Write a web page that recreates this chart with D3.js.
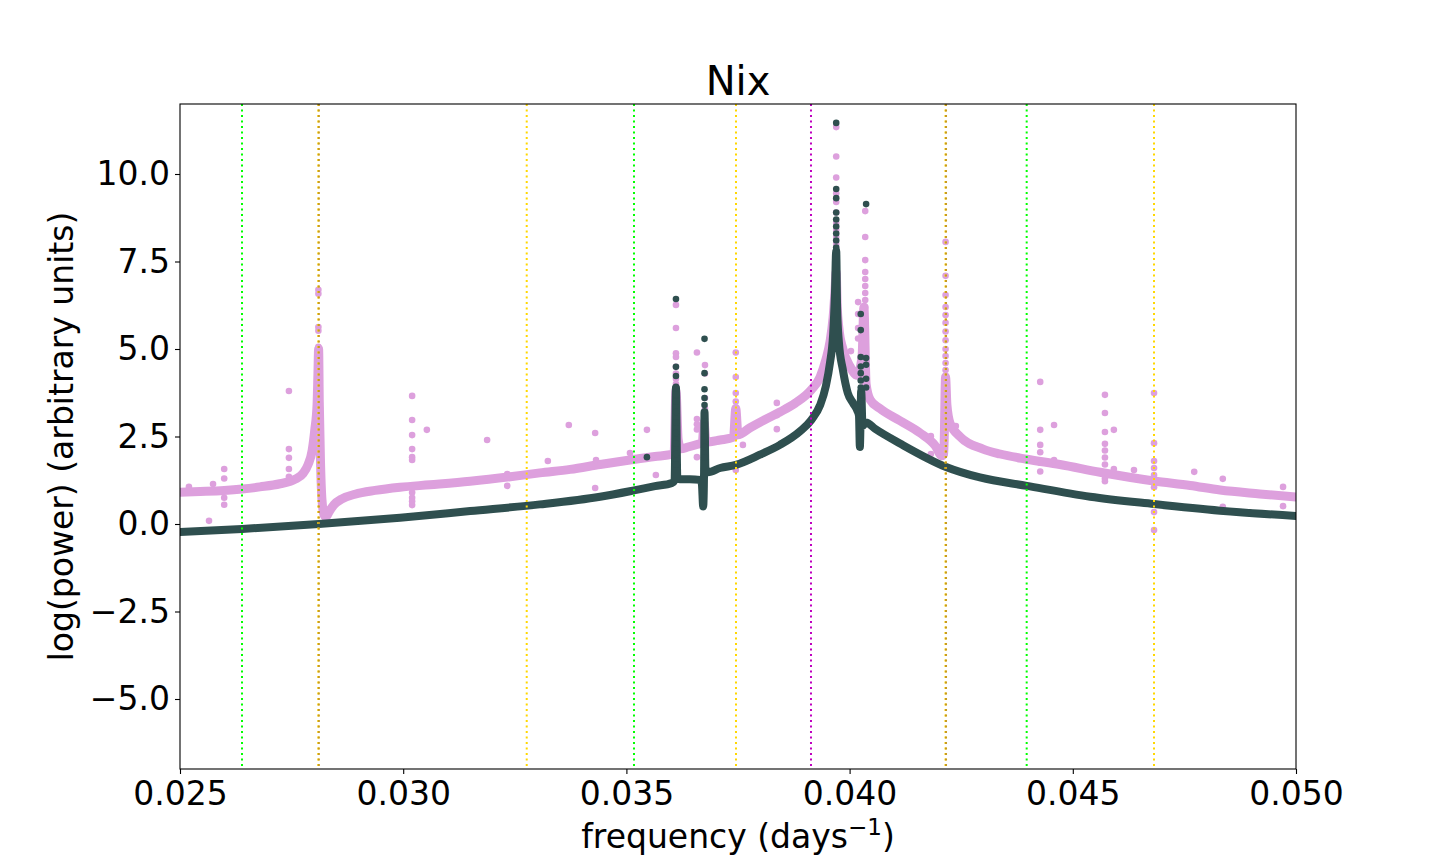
<!DOCTYPE html>
<html>
<head>
<meta charset="utf-8">
<script src="https://cdn.jsdelivr.net/npm/d3@7"></script>
<style>
  html, body { margin: 0; padding: 0; background: white; }
  svg { display: block; font-family: "DejaVu Sans", sans-serif; }
</style>
</head>
<body>
<div id="chart"></div>
<script>
// ---- data ----
// x ticks / y ticks
const xTicks = [0.025, 0.030, 0.035, 0.040, 0.045, 0.050];
const yTicks = [-5.0, -2.5, 0.0, 2.5, 5.0, 7.5, 10.0];

// reference frequencies (dotted vertical lines) and which family each one is
const refFreqs = [0.026389, 0.028098, 0.028110, 0.032767, 0.035170, 0.037455, 0.039135, 0.042148, 0.042160, 0.043967, 0.046819];
const refKinds = ['a', 'b', 'c', 'b', 'a', 'b', 'd', 'b', 'c', 'a', 'b'];

// dense band of the first series (pink), [frequency, log power]
const pinkBand = [
  [0.02500, 0.91], [0.02545, 0.93], [0.02599, 0.96], [0.02639, 1.00], [0.02679, 1.06],
  [0.02724, 1.15], [0.02758, 1.28], [0.02776, 1.45], [0.02787, 1.70], [0.02796, 2.10],
  [0.02802, 2.70], [0.02807, 3.40], [0.02809, 4.30], [0.028105, 5.00], [0.02812, 3.50],
  [0.028147, 1.80], [0.02818, 0.70], [0.02823, 0.25], [0.02827, 0.20], [0.02834, 0.35],
  [0.02845, 0.55], [0.02863, 0.72], [0.02892, 0.85], [0.02937, 0.96], [0.02993, 1.05],
  [0.03060, 1.12], [0.03150, 1.22], [0.03240, 1.35], [0.03306, 1.46], [0.03374, 1.56],
  [0.03441, 1.70], [0.03508, 1.83], [0.03564, 1.93], [0.03598, 1.98], [0.03607, 2.05],
  [0.03611, 3.80], [0.03616, 2.40], [0.03622, 2.15], [0.03638, 2.20], [0.03660, 2.28],
  [0.03670, 2.32], [0.03674, 2.90], [0.03678, 2.34], [0.03710, 2.40], [0.03740, 2.48],
  [0.03745, 3.30], [0.03750, 2.55], [0.03777, 2.75], [0.03810, 2.98], [0.03844, 3.20],
  [0.03878, 3.45], [0.03914, 3.83], [0.03934, 4.20], [0.03947, 4.70], [0.03956, 5.20],
  [0.03963, 5.90], [0.03967, 6.60], [0.03970, 7.20], [0.03972, 6.30], [0.03976, 5.60],
  [0.03985, 5.00], [0.04001, 4.50], [0.04017, 4.25], [0.04028, 4.80], [0.04032, 6.20],
  [0.04037, 4.00], [0.04046, 3.55], [0.04068, 3.30], [0.04113, 2.95], [0.04158, 2.60],
  [0.04191, 2.25], [0.04207, 1.95], [0.04211, 2.00], [0.04215, 4.20], [0.04218, 3.40],
  [0.04225, 2.88], [0.04247, 2.50], [0.04299, 2.14], [0.04337, 2.00], [0.04397, 1.85],
  [0.04471, 1.70], [0.04561, 1.48], [0.04682, 1.23], [0.04763, 1.10], [0.04830, 0.97],
  [0.04919, 0.86], [0.05000, 0.77]
];

// dense band of the second series (dark)
const darkBand = [
  [0.02500, -0.23], [0.02639, -0.14], [0.02811, 0.00], [0.02993, 0.18], [0.03150, 0.37],
  [0.03306, 0.56], [0.03441, 0.78], [0.03517, 0.96], [0.03564, 1.08], [0.03602, 1.17],
  [0.03608, 1.25], [0.03611, 3.90], [0.03614, 1.35], [0.03620, 1.28], [0.03642, 1.28],
  [0.03665, 1.26], [0.03669, 1.15], [0.03672, 0.50], [0.03674, 1.50], [0.03675, 3.20],
  [0.03677, 1.60], [0.03683, 1.48], [0.03710, 1.60], [0.03745, 1.69], [0.03799, 1.98],
  [0.03844, 2.26], [0.03889, 2.65], [0.03914, 2.97], [0.03934, 3.40], [0.03947, 3.95],
  [0.03956, 4.60], [0.03963, 5.40], [0.03967, 6.50], [0.03970, 7.80], [0.03972, 6.20],
  [0.03976, 5.20], [0.03985, 4.40], [0.03996, 3.74], [0.04008, 3.45], [0.04017, 3.25],
  [0.04021, 3.10], [0.04023, 2.20], [0.04026, 3.80], [0.04029, 2.80], [0.04037, 2.90],
  [0.04057, 2.72], [0.04113, 2.30], [0.04216, 1.63], [0.04292, 1.33], [0.04397, 1.09],
  [0.04539, 0.78], [0.04682, 0.57], [0.04830, 0.38], [0.05000, 0.23]
];

// scattered outliers of the pink series
const pinkDots = [
  [0.02520, 1.06], [0.02565, 0.09], [0.02574, 1.14],
  [0.02599, 1.57], [0.02599, 1.30], [0.02599, 0.75], [0.02599, 0.55],
  [0.02744, 3.80], [0.02744, 2.14], [0.02744, 1.89], [0.02744, 1.57], [0.02744, 1.35],
  [0.02810, 6.69], [0.02810, 6.58], [0.02810, 5.63], [0.02810, 5.52], [0.02810, 5.06],
  [0.02810, 4.90], [0.02810, 4.75], [0.02810, 4.60], [0.02810, 4.45], [0.02810, 4.30],
  [0.03020, 3.66], [0.03020, 2.97], [0.03020, 2.54], [0.03020, 2.14], [0.03020, 1.91],
  [0.03020, 1.83], [0.03020, 0.90], [0.03020, 0.75], [0.03020, 0.65], [0.03020, 0.54],
  [0.03053, 2.69], [0.03188, 2.40], [0.03233, 1.43], [0.03233, 1.09],
  [0.03324, 1.80], [0.03371, 2.83], [0.03430, 2.60], [0.03430, 1.03], [0.03432, 1.83],
  [0.03508, 2.03], [0.03546, 2.69], [0.03566, 1.40],
  [0.03611, 6.26], [0.03611, 5.60], [0.03611, 4.88], [0.03611, 4.77], [0.03611, 4.49],
  [0.03611, 4.30], [0.03611, 4.15], [0.03611, 4.00], [0.03611, 3.85],
  [0.03658, 4.90], [0.03658, 3.00], [0.03658, 2.85], [0.03658, 2.70], [0.03658, 1.91],
  [0.03676, 4.54], [0.03676, 4.30], [0.03676, 3.60], [0.03676, 3.30], [0.03676, 3.00], [0.03676, 1.50],
  [0.03745, 4.90], [0.03745, 4.20], [0.03745, 3.74], [0.03745, 3.50], [0.03745, 1.54],
  [0.03761, 2.26], [0.03837, 3.46], [0.03837, 3.11], [0.03837, 2.71],
  [0.03970, 11.34], [0.03970, 10.50], [0.03970, 9.90], [0.03970, 9.45], [0.03970, 9.20],
  [0.03970, 8.90], [0.03970, 8.60], [0.03970, 8.40], [0.03970, 8.20], [0.03970, 8.00],
  [0.03970, 7.80], [0.03970, 7.60],
  [0.04003, 4.94], [0.04019, 6.34], [0.04019, 6.00], [0.04019, 5.60], [0.04019, 5.30],
  [0.04035, 8.94], [0.04035, 8.20], [0.04035, 7.54], [0.04035, 7.20], [0.04035, 7.00],
  [0.04035, 6.80], [0.04035, 6.60], [0.04035, 6.40], [0.04035, 6.20],
  [0.04182, 2.51], [0.04182, 2.00],
  [0.04215, 8.06], [0.04215, 7.09], [0.04215, 6.54], [0.04215, 6.20], [0.04215, 5.97],
  [0.04215, 5.75], [0.04215, 5.50], [0.04215, 5.25], [0.04215, 5.00], [0.04215, 4.80],
  [0.04215, 4.60], [0.04215, 4.40],
  [0.04238, 2.80],
  [0.04427, 4.06], [0.04427, 2.69], [0.04427, 2.26], [0.04427, 2.05], [0.04427, 1.75], [0.04427, 1.50],
  [0.04458, 2.83], [0.04458, 1.83],
  [0.04572, 3.69], [0.04572, 3.17], [0.04572, 2.63], [0.04572, 2.29], [0.04572, 2.10],
  [0.04572, 1.90], [0.04572, 1.70], [0.04572, 1.30], [0.04572, 1.22],
  [0.04592, 2.69], [0.04592, 1.57], [0.04637, 1.54],
  [0.04682, 3.74], [0.04682, 2.31], [0.04682, 1.80], [0.04682, 1.60], [0.04682, 1.40],
  [0.04682, 1.05], [0.04682, 0.34], [0.04682, -0.17],
  [0.04772, 1.49], [0.04836, 1.29], [0.04836, 0.49], [0.04971, 1.06], [0.04971, 0.51]
];

// scattered outliers of the dark series
const darkDots = [
  [0.03546, 1.91],
  [0.03611, 6.43], [0.03611, 4.49], [0.03611, 4.23], [0.03611, 3.90], [0.03611, 3.70],
  [0.03611, 3.50], [0.03611, 3.20], [0.03611, 2.90], [0.03611, 2.60], [0.03611, 2.30],
  [0.03611, 2.00], [0.03611, 1.70],
  [0.03675, 5.29], [0.03675, 4.31], [0.03675, 3.85], [0.03675, 3.60], [0.03675, 3.40],
  [0.03675, 3.10], [0.03675, 2.80], [0.03675, 2.50], [0.03675, 2.20], [0.03675, 1.90],
  [0.03970, 11.46], [0.03970, 9.57], [0.03970, 9.31], [0.03970, 8.90], [0.03970, 8.70],
  [0.03970, 8.50], [0.03970, 8.30], [0.03970, 8.10], [0.03970, 7.90],
  [0.04025, 6.00], [0.04025, 5.54], [0.04025, 4.77], [0.04025, 4.50], [0.04025, 4.31],
  [0.04025, 4.10], [0.04025, 3.90], [0.04025, 3.70], [0.04025, 3.50],
  [0.04037, 9.14], [0.04037, 4.74], [0.04037, 4.55], [0.04037, 4.15], [0.04037, 3.90]
];

// ---- layout ----
const svgWidth = 1440;
const svgHeight = 864;
const plot = { left: 180, right: 1296, top: 104, bottom: 769 };

const pinkColor = '#dda0dd';
const darkColor = '#2f4f4f';
const kindColor = { a: '#00ff00', b: '#ffd700', c: '#c89a20', d: '#bf00bf' };

const svg = d3.select('#chart').append('svg')
  .attr('width', svgWidth)
  .attr('height', svgHeight)
  .style('background', 'white');

const x = d3.scaleLinear().domain([0.025, 0.050]).range([plot.left, plot.right]);
const y = d3.scaleLinear().domain([-7, 12]).range([plot.bottom, plot.top]);

svg.append('clipPath').attr('id', 'clip')
  .append('rect')
  .attr('x', plot.left).attr('y', plot.top)
  .attr('width', plot.right - plot.left).attr('height', plot.bottom - plot.top);

const area = svg.append('g').attr('clip-path', 'url(#clip)');

const line = d3.line()
  .x(d => x(d[0]))
  .y(d => y(d[1]))
  .curve(d3.curveMonotoneX);

// pink series: band then outliers
area.append('path')
  .datum(pinkBand)
  .attr('d', line)
  .attr('fill', 'none')
  .attr('stroke', pinkColor)
  .attr('stroke-width', 9)
  .attr('stroke-linejoin', 'round')
  .attr('stroke-linecap', 'round');

area.append('g').selectAll('circle')
  .data(pinkDots)
  .join('circle')
  .attr('cx', d => x(d[0]))
  .attr('cy', d => y(d[1]))
  .attr('r', 3.3)
  .attr('fill', pinkColor);

// dark series on top
area.append('path')
  .datum(darkBand)
  .attr('d', line)
  .attr('fill', 'none')
  .attr('stroke', darkColor)
  .attr('stroke-width', 8)
  .attr('stroke-linejoin', 'round')
  .attr('stroke-linecap', 'round');

area.append('g').selectAll('circle')
  .data(darkDots)
  .join('circle')
  .attr('cx', d => x(d[0]))
  .attr('cy', d => y(d[1]))
  .attr('r', 3.3)
  .attr('fill', darkColor);

// dotted reference lines drawn over the data
area.append('g').selectAll('line')
  .data(refFreqs)
  .join('line')
  .attr('x1', d => x(d)).attr('x2', d => x(d))
  .attr('y1', plot.top).attr('y2', plot.bottom)
  .attr('stroke', (d, i) => kindColor[refKinds[i]])
  .attr('stroke-width', 2)
  .attr('stroke-dasharray', '2,3.5');

// axes
const xAxis = d3.axisBottom(x)
  .tickValues(xTicks)
  .tickFormat(d3.format('.3f'))
  .tickSize(5)
  .tickPadding(8);

const yAxis = d3.axisLeft(y)
  .tickValues(yTicks)
  .tickFormat(d3.format('.1f'))
  .tickSize(5)
  .tickPadding(5);

const gx = svg.append('g')
  .attr('transform', `translate(0,${plot.bottom})`)
  .call(xAxis);
const gy = svg.append('g')
  .attr('transform', `translate(${plot.left},0)`)
  .call(yAxis);

[gx, gy].forEach(g => {
  g.select('.domain').remove();
  g.selectAll('.tick line').attr('stroke', 'black').attr('stroke-width', 1.1);
  g.selectAll('.tick text')
    .attr('fill', 'black')
    .style('font-family', '"DejaVu Sans", sans-serif')
    .style('font-size', '33px');
});

// frame
svg.append('rect')
  .attr('x', plot.left).attr('y', plot.top)
  .attr('width', plot.right - plot.left).attr('height', plot.bottom - plot.top)
  .attr('fill', 'none')
  .attr('stroke', 'black')
  .attr('stroke-width', 1.1);

// title and labels
const midX = (plot.left + plot.right) / 2;

svg.append('text')
  .attr('x', midX).attr('y', 95)
  .attr('text-anchor', 'middle')
  .style('font-size', '40px')
  .text('Nix');

const xl = svg.append('text')
  .attr('x', midX).attr('y', 848)
  .attr('text-anchor', 'middle')
  .style('font-size', '33px');
xl.append('tspan').text('frequency (days');
xl.append('tspan').attr('dy', -13).style('font-size', '23px').text('\u22121');
xl.append('tspan').attr('dy', 13).text(')');

svg.append('text')
  .attr('transform', `translate(73,${(plot.top + plot.bottom) / 2}) rotate(-90)`)
  .attr('text-anchor', 'middle')
  .style('font-size', '33px')
  .text('log(power) (arbitrary units)');
</script>
</body>
</html>
